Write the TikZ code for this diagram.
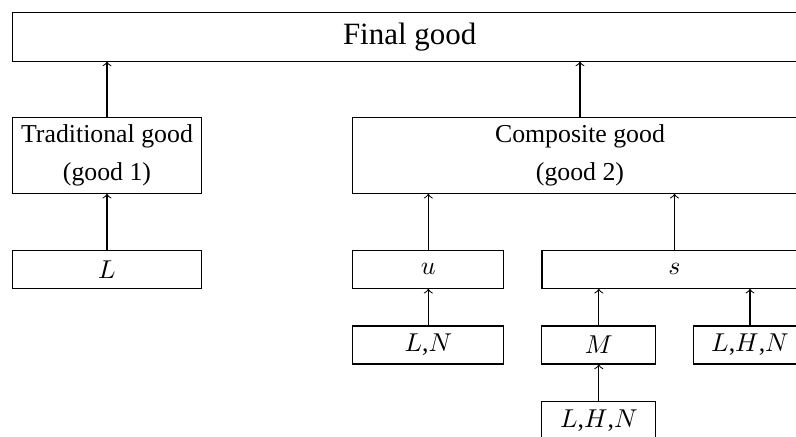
\documentclass[tikz,border=0pt]{standalone}
\usepackage[no-math]{fontspec}
\setmainfont{Liberation Serif}
\begin{document}
\begin{tikzpicture}[x=0.3875pt,y=-0.3875pt]
\tikzset{
  box/.style={draw, rectangle, inner sep=0pt, align=center,
    font=\fontsize{10}{14.7}\selectfont},
  feed/.style={->}
}
\clip (0,0) rectangle (796,437);
% top level
\node[box, minimum width=794.7*0.3875pt, minimum height=48.7*0.3875pt,
      font=\large] (final) at (409.7,36.7) {Final good};
% second level
\node[box, minimum width=189.4*0.3875pt, minimum height=75.6*0.3875pt]
      (trad) at (107,155.5) {Traditional good\\(good 1)};
\node[box, minimum width=454.3*0.3875pt, minimum height=75.6*0.3875pt]
      (comp) at (580,155.5) {Composite good\\(good 2)};
% third level
\node[box, minimum width=189.4*0.3875pt, minimum height=38*0.3875pt]
      (lab) at (107,269.3) {$L$};
\node[box, minimum width=151.3*0.3875pt, minimum height=38*0.3875pt]
      (u) at (428.3,269.3) {$u$};
\node[box, minimum width=265*0.3875pt, minimum height=38*0.3875pt]
      (s) at (674.5,269.3) {$s$};
% fourth level
\node[box, minimum width=151.3*0.3875pt, minimum height=38*0.3875pt]
      (ln) at (428.3,345) {$L$,$N$};
\node[box, minimum width=113.7*0.3875pt, minimum height=38*0.3875pt]
      (m) at (598.8,345) {$M$};
\node[box, minimum width=113.7*0.3875pt, minimum height=38*0.3875pt]
      (lhnA) at (750,345) {$L$,$H$,$N$};
% fifth level
\node[box, minimum width=113.7*0.3875pt, minimum height=38*0.3875pt]
      (lhnB) at (598.8,420.7) {$L$,$H$,$N$};
% connectors
\draw[feed] (trad.north) -- (trad.north |- final.south);
\draw[feed] (comp.north) -- (comp.north |- final.south);
\draw[feed] (lab.north) -- (trad.south);
\draw[feed] (u.north) -- (u.north |- comp.south);
\draw[feed] (s.north) -- (s.north |- comp.south);
\draw[feed] (ln.north) -- (u.south);
\draw[feed] (m.north) -- (m.north |- s.south);
\draw[feed] (lhnA.north) -- (lhnA.north |- s.south);
\draw[feed] (lhnB.north) -- (m.south);
\end{tikzpicture}
\end{document}
